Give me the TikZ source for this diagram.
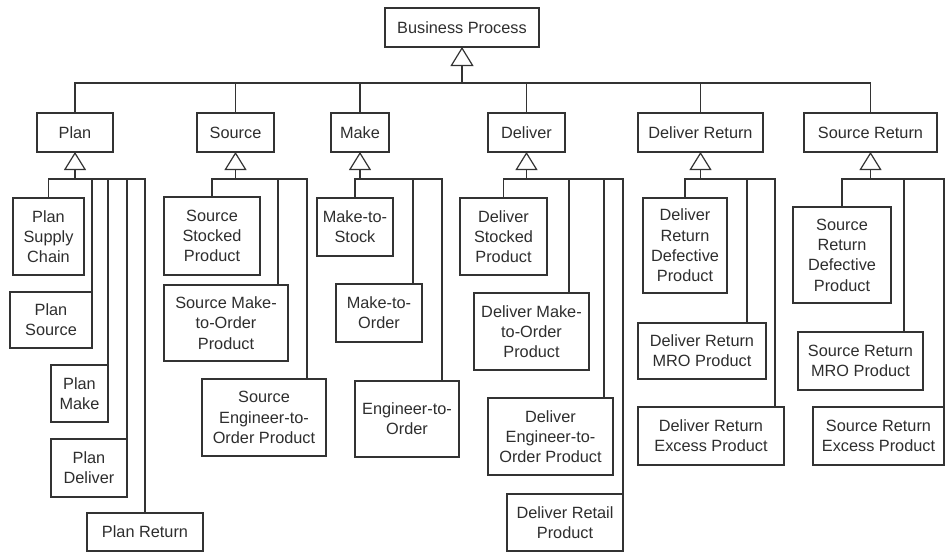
\documentclass[tikz,border=0pt]{standalone}
\usepackage{fontspec}
\setmainfont{Liberation Sans}
\usetikzlibrary{arrows.meta,calc}
\definecolor{lineclr}{HTML}{333333}
\definecolor{textclr}{HTML}{2E2E2E}
\tikzset{
  box/.style={draw=lineclr, line width=1.2pt, fill=white, inner sep=0pt, outer sep=0pt,
    align=center, text=textclr, font=\fontsize{16.3}{20.3}\selectfont},
  link/.style={draw=lineclr, line width=1.2pt},
  inherit/.style={link, -{Triangle[open, length=18pt, width=22pt, line width=1.2pt]}},
}
% box from its corners: name, x1, y1, x2, y2, text (pixel-style units, y downward)
\newcommand\bx[6]{\node[box, minimum width={(#4-#2)*1pt}, minimum height={(#5-#3)*1pt}] (#1) at ({(#2+#4)/2},{(#3+#5)/2}) {#6};}
\begin{document}
\begin{tikzpicture}[x=1pt, y=-1pt]
\useasboundingbox (0,0) rectangle (946,552);

% root and first level
\bx{bp}{385}{8}{539}{47}{Business Process}
\bx{plan}{37}{113}{113}{152}{Plan}
\bx{src}{197}{113}{274}{152}{Source}
\bx{make}{331}{113}{389}{152}{Make}
\bx{del}{488}{113}{565}{152}{Deliver}
\bx{dr}{638}{113}{763}{152}{Deliver Return}
\bx{sr}{804}{113}{937}{152}{Source Return}

% Plan children
\bx{psc}{13}{198}{84}{275}{Plan\\Supply\\Chain}
\bx{ps}{10}{292}{92}{348}{Plan\\Source}
\bx{pm}{51}{365}{108}{422}{Plan\\Make}
\bx{pd}{51}{439}{127}{497}{Plan\\Deliver}
\bx{pr}{87}{513}{203}{551}{Plan Return}

% Source children
\bx{ssp}{164}{197}{260}{275}{Source\\Stocked\\Product}
\bx{smto}{164}{285}{288}{361}{Source Make-\\to-Order\\Product}
\bx{seto}{202}{379}{326}{456}{Source\\Engineer-to-\\Order Product}

% Make children
\bx{mts}{317}{198}{393}{256}{Make-to-\\Stock}
\bx{mto}{336}{284}{422}{342}{Make-to-\\Order}
\bx{eto}{355}{381}{459}{457}{Engineer-to-\\Order}

% Deliver children
\bx{dsp}{460}{198}{547}{275}{Deliver\\Stocked\\Product}
\bx{dmto}{474}{293}{589}{370}{Deliver Make-\\to-Order\\Product}
\bx{deto}{488}{398}{613}{475}{Deliver\\Engineer-to-\\Order Product}
\bx{drp}{507}{494}{623}{551}{Deliver Retail\\Product}

% Deliver Return children
\bx{drdp}{643}{198}{727}{293}{Deliver\\Return\\Defective\\Product}
\bx{drmro}{638}{323}{766}{379}{Deliver Return\\MRO Product}
\bx{drep}{638}{407}{784}{465}{Deliver Return\\Excess Product}

% Source Return children
\bx{srdp}{793}{207}{891}{303}{Source\\Return\\Defective\\Product}
\bx{srmro}{798}{332}{923}{390}{Source Return\\MRO Product}
\bx{srep}{813}{407}{944}{465}{Source Return\\Excess Product}

% junction points below each parent
\coordinate (bp-j) at ($(bp.south)+(0,36)$);
\foreach \p in {plan,src,make,del,dr,sr}
  \coordinate (\p-j) at ($(\p.south)+(0,27)$);

% generalisation arrows
\draw[inherit, -{Triangle[open, length=19pt, width=23pt, line width=1.2pt]}] (bp-j) -- (bp.south);
\foreach \p in {plan,src,make,del,dr,sr}
  \draw[inherit] (\p-j) -- (\p.south);

% top bus
\draw[link] (plan.north) |- (bp-j) -| (sr.north);
\foreach \p in {src,make,del,dr}
  \draw[link] (\p.north) -- (\p.north |- bp-j);

% Plan branches
\draw[link] (plan-j) -| (psc.north);
\draw[link] (plan-j) -| (ps.north east);
\draw[link] (plan-j) -| (pm.north east);
\draw[link] (plan-j) -| (pd.north east);
\draw[link] (plan-j) -| (pr.north);

% Source branches
\draw[link] (src-j) -| (ssp.north);
\draw[link] (src-j) -| ([xshift=52pt]smto.north);
\draw[link] (src-j) -| ([xshift=43pt]seto.north);

% Make branches
\draw[link] (make-j) -| (mts.north);
\draw[link] (make-j) -| ([xshift=34pt]mto.north);
\draw[link] (make-j) -| ([xshift=35pt]eto.north);

% Deliver branches
\draw[link] (del-j) -| (dsp.north);
\draw[link] (del-j) -| ([xshift=37.5pt]dmto.north);
\draw[link] (del-j) -| ([xshift=53.5pt]deto.north);
\draw[link] (del-j) -| (drp.north east);

% Deliver Return branches
\draw[link] (dr-j) -| (drdp.north);
\draw[link] (dr-j) -| ([xshift=45pt]drmro.north);
\draw[link] (dr-j) -| ([xshift=64pt]drep.north);

% Source Return branches
\draw[link] (sr-j) -| (srdp.north);
\draw[link] (sr-j) -| ([xshift=43.5pt]srmro.north);
\draw[link] (sr-j) -| (srep.north east);
\end{tikzpicture}
\end{document}
